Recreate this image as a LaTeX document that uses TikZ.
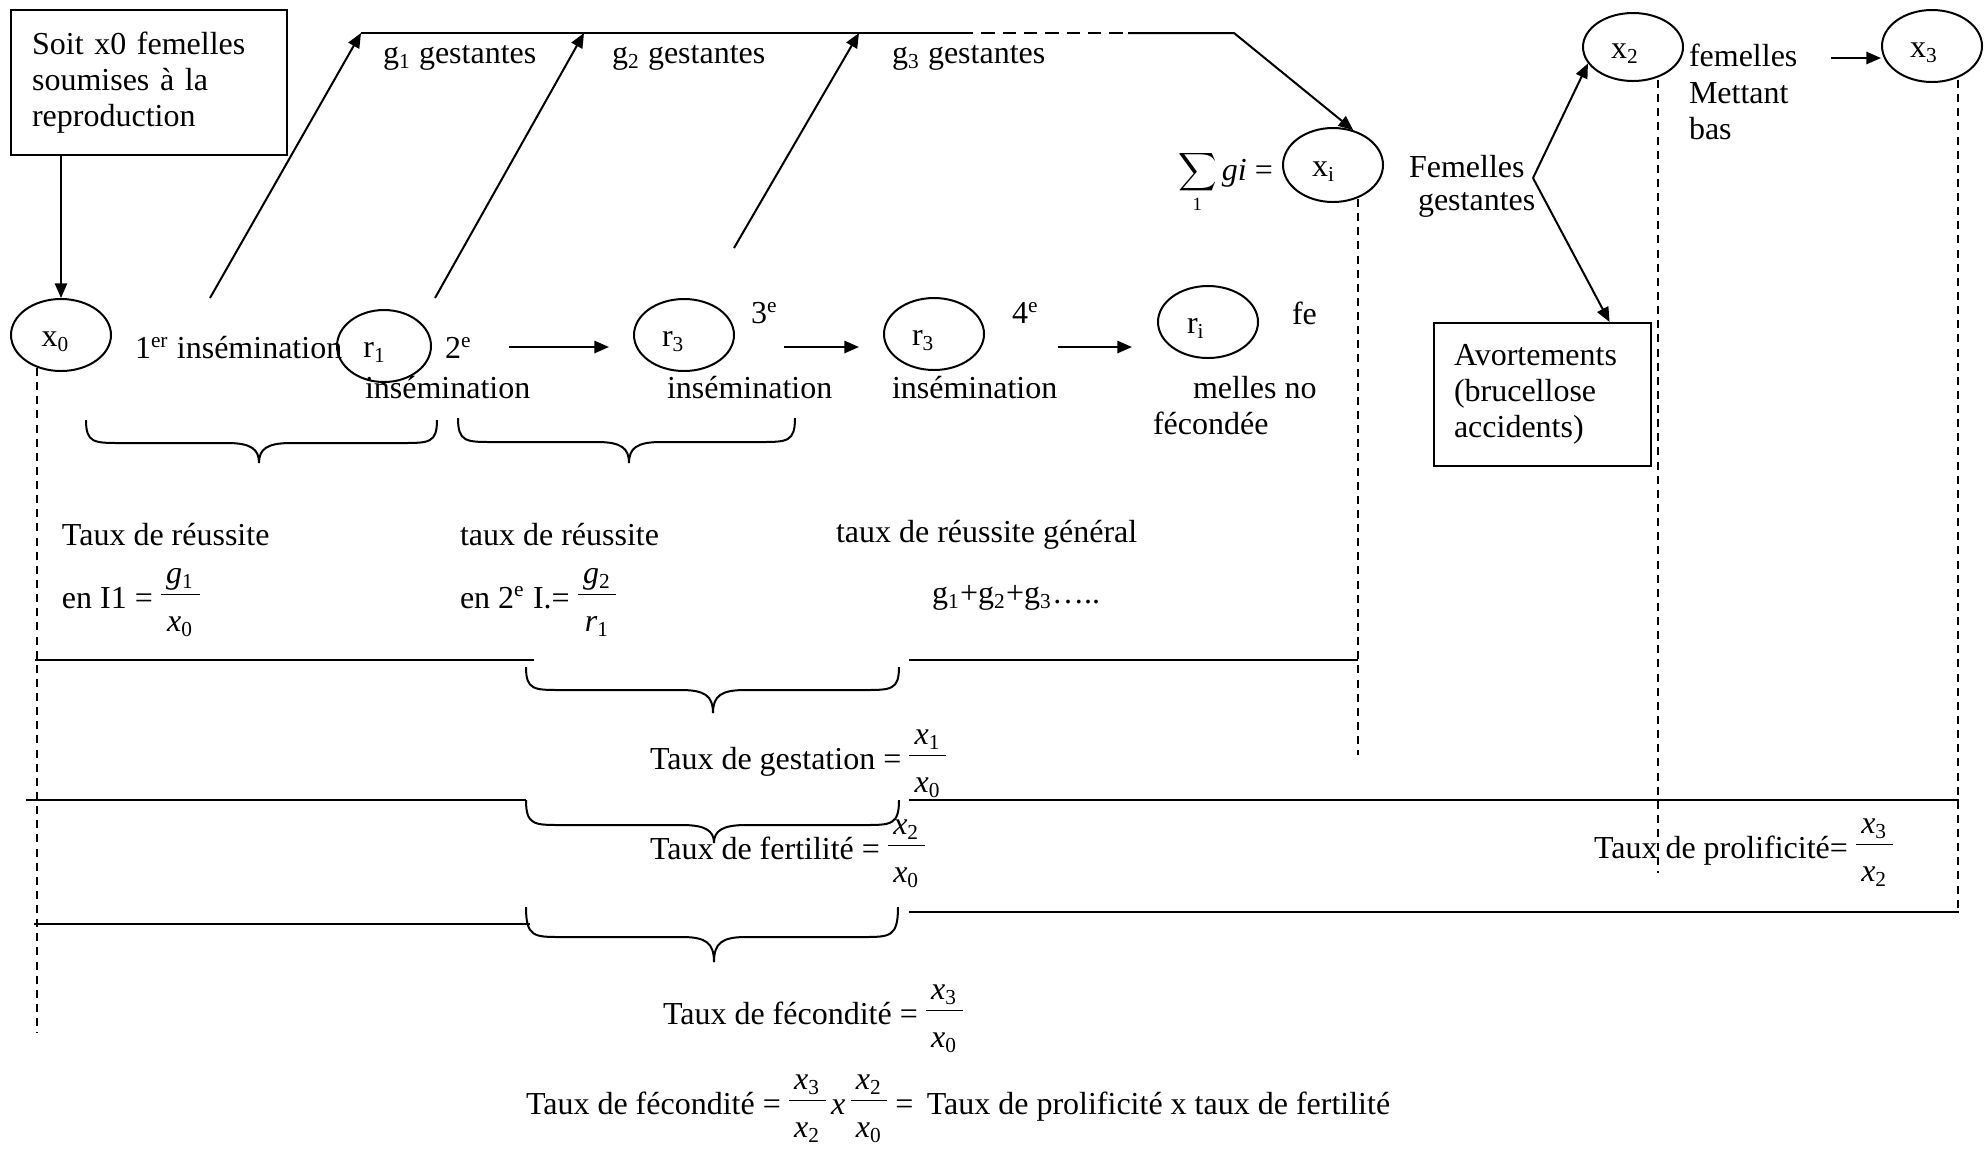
\documentclass[tikz,border=0pt]{standalone}
\usepackage{fontspec}
\setmainfont{Liberation Serif}
\usetikzlibrary{arrows.meta,calc,shapes.geometric}
\newcommand\iv[2]{\textit{#1}\textsubscript{#2}}
\newcommand\fr[2]{\ensuremath{\vcenter{\hbox{\begin{tabular}{@{\,}c@{\,}}#1\\[0pt]\hline\rule{0pt}{13.5pt}#2\end{tabular}}}}}
\newcommand\el[2]{\raisebox{-2.4pt}[\height][\depth]{#1}\hspace*{#2}}
\newcommand\hbrace[6]{%
  \draw (#1,#4) .. controls (#1,#5) and (#1+8,#5) .. (#1+35,#5) -- (#3-32,#5) .. controls (#3-8,#5) and (#3,#5+6) .. (#3,#6);
  \draw (#2,#4) .. controls (#2,#5) and (#2-8,#5) .. (#2-35,#5) -- (#3+32,#5) .. controls (#3+8,#5) and (#3,#5+6) .. (#3,#6);}
\begin{document}
\begin{tikzpicture}[x=0.375pt,y=-0.375pt,
  font=\fontsize{12}{13.6}\selectfont, line width=0.75pt,
  ell/.style={draw, ellipse, inner sep=0pt, minimum width=37.5pt, minimum height=27pt},
  txt/.style={inner sep=0pt, anchor=west},
  arr/.style={-{Triangle[length=5.5pt,width=4.6pt]}},
  dsh/.style={dash pattern=on 3pt off 2.3pt, line width=0.6pt},
  hl/.style={line width=0.9pt},
  boxed/.style={draw, anchor=north west, align=left}]
\useasboundingbox (0,0) rectangle (1984,1152);

% boxes
\node[boxed, minimum width=103.5pt, minimum height=54.4pt, inner xsep=7.9pt, text width=87.7pt] (box) at (10,9) {Soit x0 femelles\\soumises à la\\reproduction};
\node[boxed, minimum width=81.4pt, minimum height=53.6pt, inner xsep=7.5pt, text width=66.4pt] (av) at (1433,322) {Avortements\\(brucellose\\accidents)};

% ellipses
\node[ell] (x0) at (61,335) {\el{x\textsubscript{0}}{4pt}};
\node[ell, minimum width=35.25pt] (r1) at (384,346) {\el{r\textsubscript{1}}{7pt}};
\node[ell] (r3a) at (684,335) {\el{r\textsubscript{3}}{8pt}};
\node[ell] (r3b) at (934,334) {\el{r\textsubscript{3}}{8pt}};
\node[ell] (ri) at (1208,322) {\el{r\textsubscript{i}}{9pt}};
\node[ell, minimum height=27.75pt] (xi) at (1333,165) {\el{x\textsubscript{i}}{7pt}};
\node[ell, minimum height=25.5pt] (x2) at (1633,47) {\el{x\textsubscript{2}}{6pt}};
\node[ell] (x3) at (1932,46) {\el{x\textsubscript{3}}{6pt}};

% texts
\node[txt] (g1t) at (382,58) {g\textsubscript{1} gestantes};
\node[txt] (g2t) at (611,58) {g\textsubscript{2} gestantes};
\node[txt] (g3t) at (891,58) {g\textsubscript{3} gestantes};
\node[txt] (i1) at (134,348) {1\textsuperscript{er} insémination};
\node[txt] (i2a) at (444,348) {2\textsuperscript{e}};
\node[txt] (i2b) at (364,388) {insémination};
\node[txt] (i3a) at (750,313) {3\textsuperscript{e}};
\node[txt] (i3b) at (666,388) {insémination};
\node[txt] (i4a) at (1011,313) {4\textsuperscript{e}};
\node[txt] (i4b) at (891,388) {insémination};
\node[txt] (nf1) at (1291,313) {fe};
\node[txt] (nf2) at (1192,388) {melles no};
\node[txt] (nf3) at (1152,423) {fécondée};
\node[txt] (sum) at (1177,182) {$\displaystyle\sum_{\mbox{\scriptsize 1}}$\,\textit{gi} =};
\node[txt] (fg1) at (1408,167) {Femelles};
\node[txt] (fg2) at (1417,205) {gestantes};
\node[txt, align=left] (fmb) at (1688,92) {femelles\\Mettant\\bas};

\node[txt] (tr1) at (61,535) {Taux de réussite};
\node[txt] (tr1f) at (61,600) {en I1 = \fr{\iv{g}{1}}{\iv{x}{0}}};
\node[txt] (tr2) at (459,535) {taux de réussite};
\node[txt] (tr2f) at (459,600) {en 2\textsuperscript{e} I.= \fr{\iv{g}{2}}{\iv{r}{1}}};
\node[txt] (trg) at (835,535) {taux de réussite général};
\node[txt] (trgs) at (931,598) {g\textsubscript{1}+g\textsubscript{2}+g\textsubscript{3}…..};
\node[txt] (tg) at (649,761) {Taux de gestation = \fr{\iv{x}{1}}{\iv{x}{0}}};
\node[txt] (tf) at (649,851) {Taux de fertilité = \fr{\iv{x}{2}}{\iv{x}{0}}};
\node[txt] (tp) at (1593,850) {Taux de prolificité= \fr{\iv{x}{3}}{\iv{x}{2}}};
\node[txt] (tfe) at (662,1016) {Taux de fécondité = \fr{\iv{x}{3}}{\iv{x}{0}}};
\node[txt] (tfe2) at (525,1106) {Taux de fécondité = \fr{\iv{x}{3}}{\iv{x}{2}}\,\textit{x}\,\fr{\iv{x}{2}}{\iv{x}{0}} =\, Taux de prolificité x taux de fertilité};

% coordinates
\coordinate (t0) at (361,33);
\coordinate (td1) at (960,33);
\coordinate (td2) at (1128,33);
\coordinate (t1) at (1234,33);
\coordinate (g1s) at (210,298);
\coordinate (g2s) at (435,298);
\coordinate (g2e) at (584,33);
\coordinate (g3s) at (734,248);
\coordinate (g3e) at (859,33);
\coordinate (a1s) at (509,347);
\coordinate (a1e) at (609,347);
\coordinate (a2s) at (784,347);
\coordinate (a2e) at (859,347);
\coordinate (a3s) at (1058,347);
\coordinate (a3e) at (1132,347);
\coordinate (br) at (1533,178);
\coordinate (x23s) at (1831,58);

% connectors
\draw[arr] (box.south -| x0) -- (x0.north);
\draw[arr] (g1s) -- (t0);
\draw[arr] (g2s) -- (g2e);
\draw[arr] (g3s) -- (g3e);
\draw (t0) -- (td1);
\draw[dash pattern=on 5pt off 3pt] (td1) -- (td2);
\draw[arr] (td2) -- (t1) -- (xi.60);
\draw[arr] (a1s) -- (a1e);
\draw[arr] (a2s) -- (a2e);
\draw[arr] (a3s) -- (a3e);
\draw[arr] (br) -- (x2.200);
\draw[arr] (br) -- ($(av.north west)!0.806!(av.north east)$);
\draw[arr] (x23s) -- (x3.west |- x23s);

% dashed guides
\draw[dsh] (37,368) -- (37,1033);
\draw[dsh] (1358,199) -- (1358,755);
\draw[dsh] (1658,80) -- (1658,873);
\draw[dsh] (1958,80) -- (1958,913);

% horizontal lines
\draw[hl] (35,660) -- (534,660);
\draw[hl] (909,660) -- (1358,660);
\draw[hl] (26,800) -- (526,800);
\draw[hl] (909,800) -- (1959,800);
\draw[hl] (34,924) -- (530,924);
\draw[hl] (909,912) -- (1959,912);

% braces
\hbrace{86}{437}{259}{420}{443}{463}
\hbrace{458}{795}{629}{418}{442}{463}
\hbrace{526}{899}{713}{667}{690}{713}
\hbrace{526}{899}{714}{800}{825}{843}
\hbrace{526}{898}{714}{907}{937}{962}
\end{tikzpicture}
\end{document}
